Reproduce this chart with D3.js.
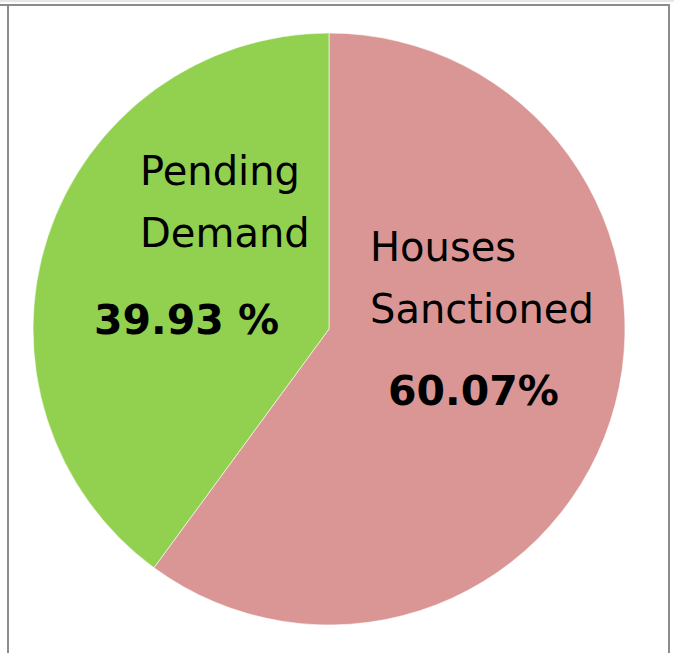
<!doctype html>
<html>
<head>
<meta charset="utf-8">
<script src="https://cdn.jsdelivr.net/npm/d3@7"></script>
<style>
  body { margin: 0; background: #fff; }
  svg { display: block; }
  text { font-family: "DejaVu Sans", sans-serif; fill: #000; }
</style>
</head>
<body>
<svg width="674" height="653"></svg>
<script>
// slice data
var categories = ["Houses Sanctioned", "Pending Demand"];
var values = [60.07, 39.93];
var pctLabels = ["60.07%", "39.93 %"];
var colors = ["#da9694", "#92d050"];

var svg = d3.select("svg");
var cx = 329, cy = 329, r = 296;

// frame lines
svg.append("line").attr("x1", 0).attr("x2", 674).attr("y1", 1).attr("y2", 1)
   .style("stroke", "#e6e6e6").style("stroke-width", 2);
svg.append("line").attr("x1", 0).attr("x2", 670).attr("y1", 5).attr("y2", 5)
   .style("stroke", "#8c8c8c").style("stroke-width", 2);
svg.append("line").attr("x1", 8).attr("x2", 8).attr("y1", 5).attr("y2", 653)
   .style("stroke", "#8c8c8c").style("stroke-width", 2);
svg.append("line").attr("x1", 669).attr("x2", 669).attr("y1", 5).attr("y2", 653)
   .style("stroke", "#8c8c8c").style("stroke-width", 2);

var pie = d3.pie().sort(null).value(function(d) { return d; });
var arc = d3.arc().innerRadius(0).outerRadius(r);

var g = svg.append("g").attr("transform", "translate(" + cx + "," + cy + ")");

g.selectAll("path")
  .data(pie(values))
  .enter()
  .append("path")
  .attr("d", arc)
  .style("fill", function(d, i) { return colors[i]; })
  .style("stroke", "#fff")
  .style("stroke-width", 0.6);

// label layout (relative to pie centre): name lines, then percentage
var labelPos = [
  {x: 41, y: -68, px: 59, py: 76},
  {x: -189, y: -144, px: -235, py: 5}
];

categories.forEach(function(name, i) {
  var words = name.split(" ");
  var p = labelPos[i];
  words.forEach(function(w, j) {
    g.append("text")
      .attr("x", p.x)
      .attr("y", p.y + j * 62)
      .style("font-size", "40px")
      .text(w);
  });
  g.append("text")
    .attr("x", p.px)
    .attr("y", p.py)
    .style("font-size", "41px")
    .style("font-weight", "bold")
    .text(pctLabels[i]);
});
</script>
</body>
</html>
